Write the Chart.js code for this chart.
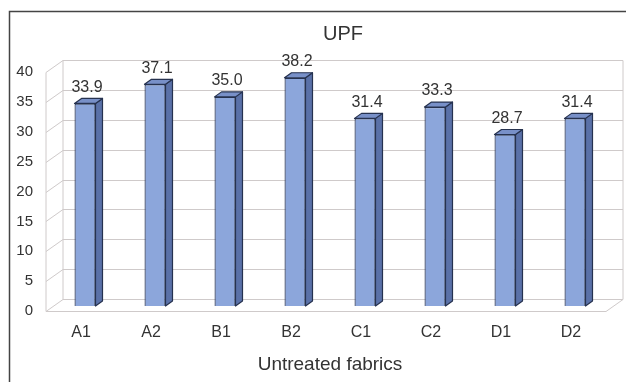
<!DOCTYPE html>
<html>
<head>
<meta charset="utf-8">
<script src="https://cdn.jsdelivr.net/npm/chart.js@4.4.1/dist/chart.umd.min.js"></script>
<style>
  html, body { margin: 0; padding: 0; background: #fff; }
</style>
</head>
<body>
<canvas id="upf-chart" width="626" height="382"></canvas>
<script>
const fabrics = ["A1", "A2", "B1", "B2", "C1", "C2", "D1", "D2"];
const upfValues = [33.9, 37.1, 35.0, 38.2, 31.4, 33.3, 28.7, 31.4];
const yTicks = [0, 5, 10, 15, 20, 25, 30, 35, 40];

const FONT = "'Liberation Sans', Arial, sans-serif";
const TEXT = "#333";
const GRID = "#cfcaca";

// depth offsets relative to the plane the bar fronts sit on
const BACK = {dx: 13, dy: -7};
const FRONT = {dx: -4, dy: 5};
const BAR = {dx: 7, dy: -5};

function line(ctx, x1, y1, x2, y2) {
    ctx.beginPath();
    ctx.moveTo(x1, y1);
    ctx.lineTo(x2, y2);
    ctx.stroke();
}

const frame = {
    id: "frame",
    beforeDraw(chart) {
        const {ctx, width, height} = chart;
        ctx.save();
        ctx.fillStyle = "#fff";
        ctx.fillRect(0, 0, width, height);
        ctx.strokeStyle = "#444";
        ctx.lineWidth = 1.5;
        ctx.beginPath();
        ctx.moveTo(9.5, height);
        ctx.lineTo(9.5, 11.5);
        ctx.lineTo(width, 11.5);
        ctx.stroke();
        ctx.restore();
    },
    afterDraw(chart) {
        const {ctx} = chart;
        ctx.save();
        ctx.fillStyle = TEXT;
        ctx.font = "20px " + FONT;
        ctx.textAlign = "center";
        ctx.textBaseline = "middle";
        ctx.fillText("UPF", 343, 34);
        ctx.restore();
    }
};

const box3d = {
    id: "box3d",
    beforeDatasetsDraw(chart) {
        const {ctx, chartArea: a, scales: {y}} = chart;
        const L = a.left, R = a.right;
        const top = Math.round(y.getPixelForValue(40)) + 0.5;
        const bottom = Math.round(y.getPixelForValue(0)) + 0.5;
        ctx.save();
        ctx.strokeStyle = GRID;
        ctx.lineWidth = 1;
        yTicks.forEach(v => {
            const py = Math.round(y.getPixelForValue(v)) + 0.5;
            line(ctx, L + BACK.dx, py + BACK.dy, R + BACK.dx, py + BACK.dy);
            line(ctx, L + FRONT.dx, py + FRONT.dy, L + BACK.dx, py + BACK.dy);
        });
        line(ctx, L + FRONT.dx, top + FRONT.dy, L + FRONT.dx, bottom + FRONT.dy);
        line(ctx, L + BACK.dx, top + BACK.dy, L + BACK.dx, bottom + BACK.dy);
        line(ctx, R + BACK.dx, top + BACK.dy, R + BACK.dx, bottom + BACK.dy);
        // floor edge
        ctx.beginPath();
        ctx.moveTo(L + FRONT.dx, bottom + FRONT.dy);
        ctx.lineTo(R + FRONT.dx, bottom + FRONT.dy);
        ctx.lineTo(R + BACK.dx, bottom + BACK.dy);
        ctx.stroke();
        ctx.restore();
    },
    afterDatasetsDraw(chart) {
        const {ctx} = chart;
        const meta = chart.getDatasetMeta(0);
        ctx.save();
        ctx.lineWidth = 1.2;
        ctx.strokeStyle = "#26324f";
        ctx.lineJoin = "round";
        meta.data.forEach((bar, i) => {
            const {x, y, base, width} = bar.getProps(["x", "y", "base", "width"], true);
            const l = x - width / 2, r = x + width / 2;
            // side face
            ctx.fillStyle = "#5a71a8";
            ctx.beginPath();
            ctx.moveTo(r, y);
            ctx.lineTo(r + BAR.dx, y + BAR.dy);
            ctx.lineTo(r + BAR.dx, base + BAR.dy);
            ctx.lineTo(r, base);
            ctx.closePath();
            ctx.fill();
            ctx.stroke();
            // top face
            ctx.fillStyle = "#7890c8";
            ctx.beginPath();
            ctx.moveTo(l, y);
            ctx.lineTo(l + BAR.dx, y + BAR.dy);
            ctx.lineTo(r + BAR.dx, y + BAR.dy);
            ctx.lineTo(r, y);
            ctx.closePath();
            ctx.fill();
            ctx.stroke();
            // value label
            ctx.fillStyle = TEXT;
            ctx.font = "16px " + FONT;
            ctx.textAlign = "center";
            ctx.textBaseline = "middle";
            ctx.fillText(upfValues[i].toFixed(1), x + 2, y - 16);
        });
        ctx.restore();
    }
};

new Chart(document.getElementById("upf-chart"), {
    type: "bar",
    data: {
        labels: fabrics,
        datasets: [{
            label: "UPF",
            data: upfValues,
            backgroundColor: "#8ca6db",
            borderColor: "#26324f",
            borderWidth: 1.2,
            barPercentage: 0.3,
            categoryPercentage: 1,
        }],
    },
    options: {
        responsive: false,
        devicePixelRatio: 1,
        animation: false,
        layout: {
            padding: {top: 67, right: 16, left: 0, bottom: 0},
        },
        plugins: {
            legend: {display: false},
            tooltip: {enabled: false},
        },
        scales: {
            x: {
                afterFit(scale) { scale.height = 76; },
                grid: {display: false, drawTicks: false},
                border: {display: false},
                ticks: {
                    padding: 17,
                    labelOffset: -4,
                    color: TEXT,
                    font: {family: FONT, size: 16},
                },
                title: {
                    display: true,
                    text: "Untreated fabrics",
                    color: TEXT,
                    font: {family: FONT, size: 19},
                    padding: {top: 0, bottom: 6},
                },
            },
            y: {
                min: 0,
                max: 40,
                afterFit(scale) { scale.width = 50; },
                afterBuildTicks(scale) { scale.ticks = yTicks.map(v => ({value: v})); },
                grid: {display: false, drawTicks: false},
                border: {display: false},
                ticks: {
                    padding: 17,
                    labelOffset: 5,
                    color: TEXT,
                    font: {family: FONT, size: 15},
                },
            },
        },
    },
    plugins: [frame, box3d],
});
</script>
</body>
</html>
